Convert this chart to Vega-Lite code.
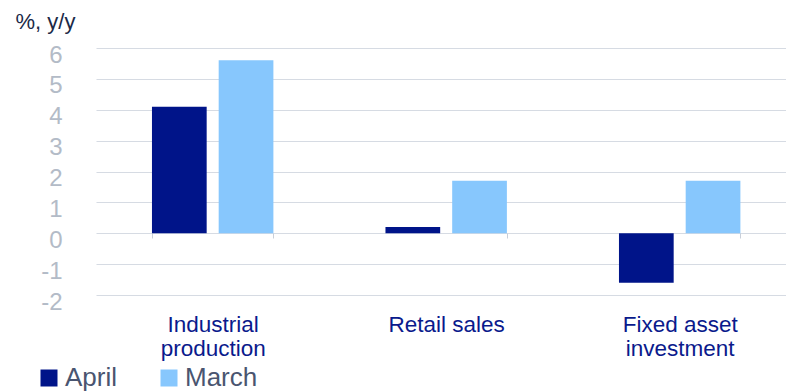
{
  "$schema": "https://vega.github.io/schema/vega-lite/v6.json",
  "width": 690,
  "height": 247,
  "autosize": {"type": "none"},
  "padding": {"left": 96, "top": 48, "right": 0, "bottom": 97},
  "background": "white",
  "data": {
    "values": [
      {"category": "Industrial production", "series": "April", "value": 4.1},
      {"category": "Industrial production", "series": "March", "value": 5.6},
      {"category": "Retail sales", "series": "April", "value": 0.2},
      {"category": "Retail sales", "series": "March", "value": 1.7},
      {"category": "Fixed asset investment", "series": "April", "value": -1.6},
      {"category": "Fixed asset investment", "series": "March", "value": 1.7}
    ]
  },
  "mark": {"type": "bar"},
  "encoding": {
    "x": {
      "field": "category",
      "type": "nominal",
      "sort": ["Industrial production", "Retail sales", "Fixed asset investment"],
      "scale": {"paddingInner": 0.48, "paddingOuter": 0.2175, "align": 0.551},
      "axis": {
        "title": null,
        "orient": "bottom",
        "offset": -62,
        "domain": false,
        "ticks": true,
        "tickBand": "extent",
        "tickSize": 5,
        "tickColor": "#c9cfd9",
        "labelAngle": 0,
        "labelPadding": 75,
        "labelBaseline": "top",
        "labelFont": "Liberation Sans",
        "labelFontSize": 22.5,
        "labelLineHeight": 24,
        "labelColor": "#0a1a8c",
        "labelExpr": "datum.value == 'Industrial production' ? ['Industrial', 'production'] : datum.value == 'Fixed asset investment' ? ['Fixed asset', 'investment'] : datum.value",
        "grid": false
      }
    },
    "xOffset": {
      "field": "series",
      "type": "nominal",
      "sort": ["April", "March"],
      "scale": {"paddingInner": 0.18, "paddingOuter": 0}
    },
    "y": {
      "field": "value",
      "type": "quantitative",
      "scale": {"domain": [-2, 6], "nice": false, "zero": false},
      "axis": {
        "values": [-2, -1, 0, 1, 2, 3, 4, 5, 6],
        "labelExpr": "'' + datum.value",
        "title": "%, y/y",
        "titleAngle": 0,
        "titleAlign": "left",
        "titleBaseline": "top",
        "titleX": -81,
        "titleY": -37,
        "titleFont": "Liberation Sans",
        "titleFontSize": 22,
        "titleFontWeight": "normal",
        "titleColor": "#1b2a47",
        "domain": false,
        "ticks": false,
        "labelPadding": 34,
        "labelBaseline": "top",
        "labelOffset": -5,
        "labelFont": "Liberation Sans",
        "labelFontSize": 24,
        "labelColor": "#b3bbc7",
        "grid": true,
        "gridColor": "#d6dbe3",
        "gridWidth": 1.2
      }
    },
    "color": {
      "field": "series",
      "type": "nominal",
      "scale": {"domain": ["April", "March"], "range": ["#001489", "#87c7fd"]},
      "legend": {
        "title": null,
        "orient": "none",
        "legendX": -60,
        "legendY": 317,
        "direction": "horizontal",
        "columns": 2,
        "columnPadding": 38,
        "padding": 0,
        "symbolType": "square",
        "symbolSize": 289,
        "symbolStrokeWidth": 0,
        "labelOffset": 3,
        "labelFont": "Liberation Sans",
        "labelFontSize": 26,
        "labelColor": "#4a5570"
      }
    }
  },
  "config": {
    "view": {"stroke": null},
    "legend": {"symbolOpacity": 1}
  }
}
